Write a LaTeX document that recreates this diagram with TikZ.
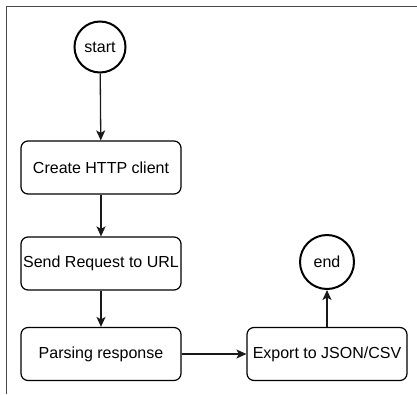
\documentclass[tikz,border=0pt]{standalone}
\usepackage{fontspec}
\setmainfont{Liberation Sans}
\usetikzlibrary{arrows.meta}
\begin{document}
\begin{tikzpicture}[x=1pt,y=-1pt,
  stepbox/.style={draw=black, line width=1.2pt, rounded corners=7pt,
    minimum width=160pt, minimum height=53pt, inner sep=0pt,
    font=\fontsize{16}{19}\selectfont},
  terminal/.style={circle, draw=black, line width=2pt, minimum size=51pt,
    inner sep=0pt, font=\fontsize{16}{19}\selectfont},
  flow/.style={line width=1.3pt, draw=black!90,
    -{Stealth[length=10pt,width=9pt,inset=2.5pt]}},
  frameline/.style={draw=black!72, line width=1.8pt}]
  \useasboundingbox (0,0) rectangle (417,394);
  % frame edges
  \coordinate (ftr) at (417,6.5);
  \coordinate (ftl) at (6.5,6.5);
  \coordinate (fbl) at (6.5,394);
  \draw[frameline] (ftr) -- (ftl) -- (fbl);
  % nodes
  \node[terminal] (start) at (100,47) {start};
  \node[stepbox] (client) at (101,167.5) {Create HTTP client};
  \node[stepbox] (send) at (101,263.5) {Send Request to URL};
  \node[stepbox] (parse) at (101,354) {Parsing response};
  \node[stepbox] (export) at (327,354) {Export to JSON/CSV};
  \node[terminal, minimum size=54pt] (end) at (327,262) {end};
  % connectors
  \draw[flow] (start) -- (client);
  \draw[flow] (client) -- (send);
  \draw[flow] (send) -- (parse);
  \draw[flow] (parse) -- (export);
  \draw[flow] (export) -- (end);
\end{tikzpicture}
\end{document}
